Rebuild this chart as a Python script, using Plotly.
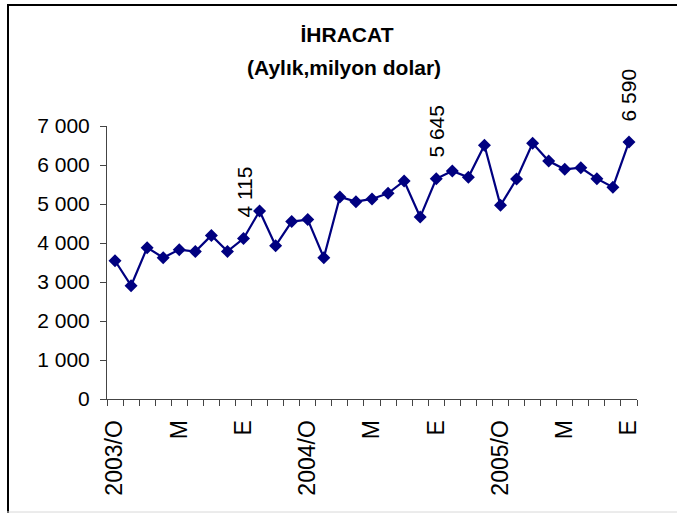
import plotly.graph_objects as go

months = [f"{y}-{m:02d}" for y in (2003, 2004, 2005) for m in range(1, 13)][:33]
tick_labels = ["2003/O", "M", "E", "2004/O", "M", "E", "2005/O", "M", "E"]
values = [3545, 2905, 3880, 3625, 3830, 3780, 4195, 3785, 4115, 4820,
          3930, 4550, 4600, 3625, 5180, 5060, 5130, 5275, 5590, 4665,
          5645, 5845, 5685, 6505, 4965, 5640, 6555, 6100, 5890, 5930,
          5650, 5430, 6590]
labeled_idx = [8, 20, 32]
title_line1 = "İHRACAT"
title_line2 = "(Aylık,milyon dolar)"

ticktext = [tick_labels[i // 4] if i % 4 == 0 else "" for i in range(len(months))]

FONT = "Liberation Sans, Arial, sans-serif"
NAVY = "#000080"

W, H = 677, 515
L, R, T, B = 107, 40, 126, 116
pw, ph = W - L - R, H - T - B

def px(x):
    return (x - L) / pw

def py(y):
    return (H - B - y) / ph

fig = go.Figure()
fig.add_trace(go.Scatter(
    x=months, y=values, mode="lines+markers",
    line=dict(color=NAVY, width=2.2),
    marker=dict(symbol="diamond", size=10, color=NAVY),
    showlegend=False, hoverinfo="skip",
))

for i in labeled_idx:
    fig.add_annotation(
        x=months[i], y=values[i], xref="x", yref="y",
        text=f"{values[i]:,}".replace(",", " "),
        textangle=-90, showarrow=False,
        yanchor="bottom", xanchor="center", yshift=19,
        font=dict(family=FONT, size=21, color="black"),
    )

fig.add_annotation(
    x=px(344), y=py(67), xref="paper", yref="paper",
    text=f"<b>{title_line2}</b>", showarrow=False,
    xanchor="center", yanchor="middle",
    font=dict(family=FONT, size=21, color="black"),
)

fig.add_shape(type="line", xref="paper", yref="paper",
              x0=px(8), x1=px(8), y0=py(5), y1=py(513),
              line=dict(color="black", width=2))
fig.add_shape(type="line", xref="paper", yref="paper",
              x0=px(7), x1=px(677), y0=py(5), y1=py(5),
              line=dict(color="black", width=2))
fig.add_shape(type="line", xref="paper", yref="paper",
              x0=px(7), x1=px(677), y0=py(512), y1=py(512),
              line=dict(color="#d8d8d8", width=1))

fig.update_layout(
    width=W, height=H,
    margin=dict(l=L, r=R, t=T, b=B),
    paper_bgcolor="white", plot_bgcolor="white",
    separators=", ",
    font=dict(family=FONT, color="black"),
    title=dict(
        text=f"<b>{title_line1}</b>",
        x=347 / W, xanchor="center", y=1 - 35 / H, yanchor="middle",
        font=dict(family=FONT, size=21, color="black"),
    ),
    xaxis=dict(
        type="category", range=[-0.5, len(months) - 0.5],
        tickmode="array", tickvals=months, ticktext=ticktext,
        tickson="boundaries", ticks="outside", ticklen=6, tickwidth=1,
        tickcolor="#444", tickangle=-90, showgrid=False, zeroline=False,
        showline=True, linecolor="#444", linewidth=1, ticklabelstandoff=11,
        tickfont=dict(family=FONT, size=23, color="black"),
    ),
    yaxis=dict(
        range=[0, 7000], tickvals=[0, 1000, 2000, 3000, 4000, 5000, 6000, 7000],
        tickformat=",d", ticks="outside", ticklen=6, tickwidth=1,
        tickcolor="#444", showgrid=False, zeroline=False,
        showline=True, linecolor="#444", linewidth=1, ticklabelstandoff=6,
        tickfont=dict(family=FONT, size=21, color="black"),
    ),
)

fig.write_html("out.html", config={"displayModeBar": False},
               post_script="document.body.style.margin='0';"
                           "document.body.style.overflow='hidden';")
